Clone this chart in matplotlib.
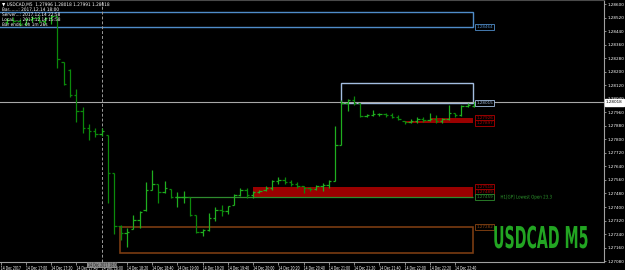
import matplotlib
matplotlib.use("Agg")
import matplotlib.pyplot as plt
from matplotlib.patches import Rectangle
from matplotlib.patheffects import AbstractPathEffect
from matplotlib.transforms import Affine2D
import numpy as np

# USDCAD M5 bars, 14 Dec 2017 from 16:45
opens = [1.28494, 1.28506, 1.28500, 1.28482, 1.28512, 1.28518, 1.28500, 1.28518, 1.28529, 1.28257,
         1.28210, 1.28062, 1.27968, 1.27867, 1.27849, 1.27832, 1.27826, 1.27601, 1.27288, 1.27246,
         1.27270, 1.27323, 1.27382, 1.27501, 1.27536, 1.27489, 1.27506, 1.27459, 1.27459, 1.27459,
         1.27353, 1.27252, 1.27264, 1.27335, 1.27382, 1.27376, 1.27412, 1.27471, 1.27501, 1.27471,
         1.27489, 1.27501, 1.27512, 1.27554, 1.27560, 1.27548, 1.27536, 1.27524, 1.27512, 1.27506,
         1.27524, 1.27530, 1.27554, 1.27767, 1.28015, 1.28033, 1.28015, 1.27938, 1.27944, 1.27950,
         1.27950, 1.27944, 1.27932, 1.27909, 1.27903, 1.27909, 1.27920, 1.27914, 1.27920, 1.27909,
         1.27920, 1.27956, 1.27944, 1.27997, 1.27996]
highs = [1.28518, 1.28523, 1.28512, 1.28518, 1.28529, 1.28535, 1.28523, 1.28535, 1.28529, 1.28257,
         1.28216, 1.28098, 1.27991, 1.27891, 1.27867, 1.27867, 1.27826, 1.27601, 1.27294, 1.27276,
         1.27353, 1.27376, 1.27548, 1.27619, 1.27536, 1.27554, 1.27506, 1.27489, 1.27495, 1.27459,
         1.27353, 1.27270, 1.27365, 1.27400, 1.27412, 1.27406, 1.27477, 1.27512, 1.27512, 1.27495,
         1.27501, 1.27524, 1.27560, 1.27577, 1.27577, 1.27560, 1.27548, 1.27524, 1.27518, 1.27530,
         1.27542, 1.27560, 1.27879, 1.28033, 1.28039, 1.28056, 1.28015, 1.27950, 1.27974, 1.27956,
         1.27956, 1.27956, 1.27944, 1.27909, 1.27920, 1.27932, 1.27932, 1.27956, 1.27944, 1.27926,
         1.28003, 1.27956, 1.28003, 1.28015, 1.28018]
lows = [1.28482, 1.28488, 1.28470, 1.28476, 1.28494, 1.28488, 1.28482, 1.28482, 1.28222, 1.28121,
        1.28050, 1.27903, 1.27838, 1.27796, 1.27814, 1.27820, 1.27424, 1.27240, 1.27205, 1.27163,
        1.27270, 1.27276, 1.27376, 1.27501, 1.27424, 1.27483, 1.27453, 1.27400, 1.27424, 1.27347,
        1.27246, 1.27229, 1.27258, 1.27317, 1.27347, 1.27359, 1.27412, 1.27465, 1.27453, 1.27453,
        1.27483, 1.27495, 1.27501, 1.27536, 1.27536, 1.27524, 1.27512, 1.27483, 1.27495, 1.27501,
        1.27495, 1.27512, 1.27554, 1.27767, 1.27968, 1.28003, 1.27932, 1.27932, 1.27938, 1.27938,
        1.27932, 1.27926, 1.27914, 1.27891, 1.27897, 1.27897, 1.27903, 1.27909, 1.27897, 1.27897,
        1.27914, 1.27932, 1.27938, 1.27991, 1.27991]
closes = [1.28506, 1.28500, 1.28482, 1.28512, 1.28518, 1.28500, 1.28518, 1.28529, 1.28275, 1.28127,
          1.28062, 1.27968, 1.27867, 1.27849, 1.27832, 1.27849, 1.27601, 1.27288, 1.27246, 1.27252,
          1.27323, 1.27370, 1.27501, 1.27536, 1.27489, 1.27512, 1.27459, 1.27459, 1.27459, 1.27353,
          1.27252, 1.27264, 1.27335, 1.27382, 1.27376, 1.27406, 1.27471, 1.27501, 1.27471, 1.27489,
          1.27495, 1.27512, 1.27554, 1.27560, 1.27548, 1.27536, 1.27524, 1.27512, 1.27506, 1.27524,
          1.27530, 1.27554, 1.27767, 1.28015, 1.28033, 1.28015, 1.27938, 1.27944, 1.27950, 1.27950,
          1.27944, 1.27932, 1.27920, 1.27903, 1.27909, 1.27920, 1.27914, 1.27920, 1.27909, 1.27920,
          1.27956, 1.27944, 1.27997, 1.28003, 1.28018]

price_ticks = [1.28600, 1.28520, 1.28440, 1.28360, 1.28280, 1.28200, 1.28120, 1.28040, 1.27960, 1.27880,
               1.27800, 1.27720, 1.27640, 1.27560, 1.27480, 1.27400, 1.27320, 1.27240, 1.27160, 1.27080]
time_labels = ['14 Dec 2017', '14 Dec 17:00', '14 Dec 17:20', '14 Dec 17:40', '14 Dec 18:00',
               '14 Dec 18:20', '14 Dec 18:40', '14 Dec 19:00', '14 Dec 19:20', '14 Dec 19:40',
               '14 Dec 20:00', '14 Dec 20:20', '14 Dec 20:40', '14 Dec 21:00', '14 Dec 21:20',
               '14 Dec 21:40', '14 Dec 22:00', '14 Dec 22:20', '14 Dec 22:40']
info_lines = ['\u25bc USDCAD,M5  1.27996 1.28018 1.27991 1.28018',
              'Bar.......: 2017.12.14 18:00',
              'Server...: 2017.12.14 22:58',
              'Local.....: 2017.12.14 15:58',
              'Bar ends.: 0h 1m 26s']

# zones drawn by indicators: (start bar, low, high)
range_box = (-2, 1.28464, 1.28553)
last_box = (53, 1.28015, 1.28133)
red_zone_1 = (63, 1.27897, 1.27909)
red_zone_2 = (67, 1.27897, 1.27926)
red_zone_3 = (39, 1.27459, 1.27518)
lowest_open = (26.6, 1.27459)
brown_box = (17.9, 1.27128, 1.27282)
zone_end = 73.9
current = closes[-1]


class Condense(AbstractPathEffect):
    # squeeze glyphs horizontally, like the narrow terminal font
    def __init__(self, sx):
        super().__init__()
        self.sx = sx

    def draw_path(self, renderer, gc, tpath, affine, rgbFace=None):
        renderer.draw_path(gc, tpath, Affine2D().scale(self.sx, 1) + affine, rgbFace)


o = np.array(opens); h = np.array(highs); l = np.array(lows); c = np.array(closes)
x = np.arange(len(o))

fig = plt.figure(figsize=(6.25, 2.7), dpi=100, facecolor='black')
ax = fig.add_axes([0, 8 / 270, 604 / 625, 262 / 270], facecolor='black')
ax.set_xlim(-1.109, 94.61)
ax.set_ylim(1.27075, 1.28624)

# zones
ax.add_patch(Rectangle((range_box[0], range_box[1]), zone_end - range_box[0], range_box[2] - range_box[1],
                       fill=False, ec='#4f8cc9', lw=1.0, zorder=1))
ax.add_patch(Rectangle((last_box[0], last_box[1]), zone_end - last_box[0], last_box[2] - last_box[1],
                       fill=False, ec='#a3bde0', lw=1.0, zorder=1))
for z in (red_zone_1, red_zone_2, red_zone_3):
    ax.add_patch(Rectangle((z[0], z[1]), zone_end - z[0], z[2] - z[1], fc='#9a0000', ec='none', zorder=1))
ax.hlines(lowest_open[1], lowest_open[0], zone_end, colors='#2e8b2e', lw=0.9, zorder=2)
ax.add_patch(Rectangle((brown_box[0], brown_box[1]), zone_end - brown_box[0], brown_box[2] - brown_box[1],
                       fill=False, ec='#7a3c12', lw=1.2, zorder=1))


def zone_label(y, col):
    ax.text(74.4, y, '%.5f' % y, color=col, fontsize=3.0, va='center', ha='left', zorder=5,
            bbox=dict(boxstyle='square,pad=0.25', fc='black', ec=col, lw=0.6))


zone_label(range_box[1], '#4f8cc9')
zone_label(last_box[1], '#a3bde0')
zone_label(red_zone_2[2], '#b00000')
zone_label(red_zone_2[1], '#b00000')
zone_label(red_zone_3[2], '#b00000')
zone_label(1.27489, '#b00000')
zone_label(lowest_open[1], '#2e8b2e')
zone_label(brown_box[2], '#8b4513')
ax.text(78.2, lowest_open[1], 'H1[GP] Lowest Open 23.3', color='#2e9b2e', fontsize=3.6, va='center',
        ha='left', path_effects=[Condense(0.8)])

# current price and crosshair
ax.axhline(current, color='#a8a8a8', lw=0.8, zorder=3)
ax.axvline(15, color='#9a9a9a', lw=0.7, dashes=(3, 2), zorder=3)

# OHLC bars
cols = np.where(c >= o, '#1fae1f', '#0b8a0b')
ax.vlines(x, l, h, colors=cols, lw=0.9, zorder=4)
ax.hlines(o, x - 0.38, x, colors=cols, lw=0.9, zorder=4)
ax.hlines(c, x, x + 0.38, colors=cols, lw=0.9, zorder=4)

# axes
ax.spines['left'].set_visible(False)
ax.spines['top'].set_color('#4a4a4a'); ax.spines['top'].set_linewidth(1.5)
ax.spines['right'].set_color('#a0a0a0'); ax.spines['bottom'].set_color('#a0a0a0')
ax.yaxis.tick_right()
ax.set_yticks(price_ticks)
ax.set_yticklabels(['%.5f' % p for p in price_ticks])
ax.set_xticks(np.arange(len(time_labels)) * 4 - 1)
ax.set_xticklabels(time_labels, ha='left')
ax.tick_params(axis='y', colors='#a0a0a0', labelcolor='white', labelsize=3.0, length=1.5, pad=0.8, width=0.6)
ax.tick_params(axis='x', colors='#a0a0a0', labelcolor='white', labelsize=3.8, length=2, pad=0.8, width=0.6)
for t in ax.get_xticklabels():
    t.set_path_effects([Condense(0.6)])

ax.text(1.003, current, '%.5f' % current, transform=ax.get_yaxis_transform(), color='black', fontsize=3.0,
        va='center', ha='left', zorder=6, clip_on=False,
        bbox=dict(boxstyle='square,pad=0.3', fc='white', ec='white'))
ax.add_patch(Rectangle((12.68, -0.024), 4.75, 0.024, transform=ax.get_xaxis_transform(), fc='#8a8a8a',
                       ec='none', clip_on=False, zorder=6))
ax.text(12.85, -0.012, '14 Dec 2017 18:00', transform=ax.get_xaxis_transform(), color='#202020',
        fontsize=3.8, va='center', ha='left', clip_on=False, zorder=7, path_effects=[Condense(0.6)])

# info block
for k, line in enumerate(info_lines):
    fig.text(2 / 625, 1 - (4.5 + 5 * k) / 270, line, color='white', fontsize=3.4, va='center', ha='left',
             path_effects=[Condense(0.9)])

fig.text(493 / 625, 1 - 248 / 270, 'USDCAD M5', color='#22a522', fontsize=21.7, fontweight='bold',
         ha='left', va='baseline', path_effects=[Condense(0.47)])

fig.savefig('out.png', dpi=100, facecolor='black')
